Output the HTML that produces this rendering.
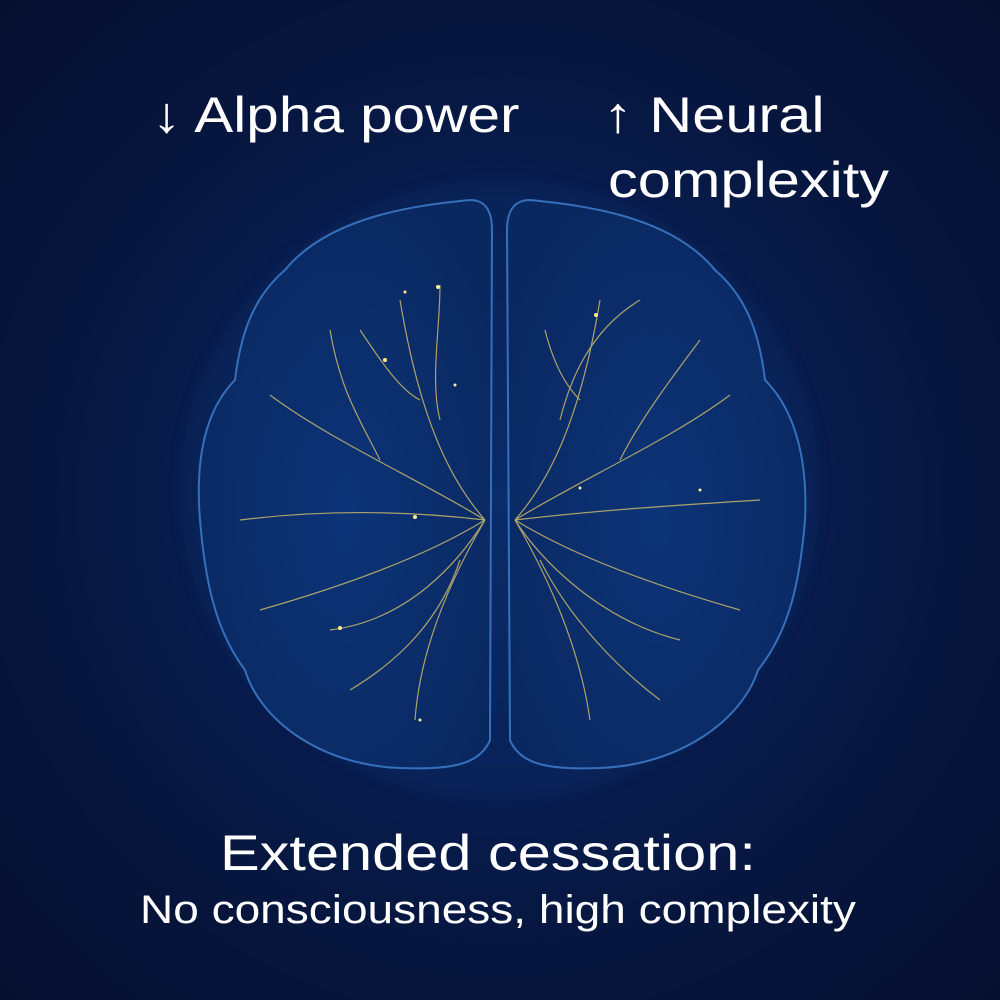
<!DOCTYPE html>
<html><head><style>
html,body{margin:0;padding:0;width:1000px;height:1000px;overflow:hidden;}
body{background:radial-gradient(ellipse at 50% 50%,#0a2a68 0%,#081e52 35%,#07163e 65%,#060f30 100%);font-family:"Liberation Sans",sans-serif;color:#fff;position:relative;}
.t{position:absolute;white-space:nowrap;line-height:1;transform-origin:0 0;}
</style></head><body>
<svg width="1000" height="1000" style="position:absolute;left:0;top:0">
<defs>
<radialGradient id="g" cx="50%" cy="55%" r="60%"><stop offset="0" stop-color="#0c3478"/><stop offset="1" stop-color="#0a2860"/></radialGradient>
<filter id="bl"><feGaussianBlur stdDeviation="6"/></filter>
</defs>
<ellipse cx="500" cy="490" rx="320" ry="310" fill="#0c3070" opacity="0.3" filter="url(#bl)"/>
<path d="M470,200 C420,205 330,215 285,270 C250,300 240,340 235,380 C205,410 195,460 200,520 C205,580 215,630 245,670 C260,720 320,765 400,768 C450,770 480,765 490,740 L492,230 C492,210 485,200 470,200Z" fill="url(#g)" stroke="#3670bb" stroke-width="2"/>
<path d="M530,200 C580,205 670,215 715,270 C750,300 760,340 765,380 C795,410 808,460 805,520 C800,580 790,630 758,670 C742,720 680,765 600,768 C550,770 520,765 510,740 L507,230 C507,210 515,200 530,200Z" fill="url(#g)" stroke="#3670bb" stroke-width="2"/>
<line x1="500" y1="220" x2="500" y2="760" stroke="#2a6cc4" stroke-width="6" opacity="0.6" filter="url(#bl)"/>
<g stroke="#c9b86a" stroke-width="1.2" fill="none" opacity="0.85">
<path d="M485,520 C450,480 420,420 400,300"/><path d="M440,420 C430,380 440,330 440,285"/>
<path d="M485,520 C420,480 330,440 270,395"/><path d="M380,460 C360,420 340,390 330,330"/>
<path d="M485,520 C400,510 320,510 240,520"/><path d="M485,520 C420,560 330,590 260,610"/>
<path d="M485,520 C450,580 420,650 415,720"/><path d="M460,560 C440,620 400,660 350,690"/>
<path d="M485,520 C460,560 410,620 330,630"/><path d="M420,400 C400,390 380,360 360,330"/>
<path d="M515,520 C550,480 580,420 600,300"/><path d="M560,420 C570,380 590,330 640,300"/>
<path d="M515,520 C580,480 670,440 730,395"/><path d="M620,460 C640,420 670,380 700,340"/>
<path d="M515,520 C600,510 680,505 760,500"/><path d="M515,520 C580,560 670,590 740,610"/>
<path d="M515,520 C550,580 580,650 590,720"/><path d="M540,560 C570,620 620,670 660,700"/>
<path d="M515,520 C540,560 600,620 680,640"/><path d="M580,400 C560,380 550,350 545,330"/>
</g>
<g fill="#ffee88">
<circle cx="438" cy="287" r="2"/><circle cx="385" cy="360" r="2"/><circle cx="415" cy="517" r="2"/><circle cx="340" cy="628" r="2"/><circle cx="405" cy="292" r="1.5"/><circle cx="596" cy="315" r="2"/><circle cx="580" cy="488" r="1.5"/><circle cx="700" cy="490" r="1.5"/><circle cx="455" cy="385" r="1.5"/><circle cx="420" cy="720" r="1.5"/>
</g>
</svg>
<div class="t" style="left:152px;top:90px;font-size:50px;transform:scaleX(1.17)">↓ Alpha power</div>
<div class="t" style="left:603px;top:90px;font-size:50px;transform:scaleX(1.19)">↑ Neural</div>
<div class="t" style="left:608px;top:155px;font-size:50px;transform:scaleX(1.19)">complexity</div>
<div class="t" style="left:220px;top:828px;font-size:50px;transform:scaleX(1.19)">Extended cessation:</div>
<div class="t" style="left:140px;top:890px;font-size:40px;transform:scaleX(1.15)">No consciousness, high complexity</div>
</body></html>
